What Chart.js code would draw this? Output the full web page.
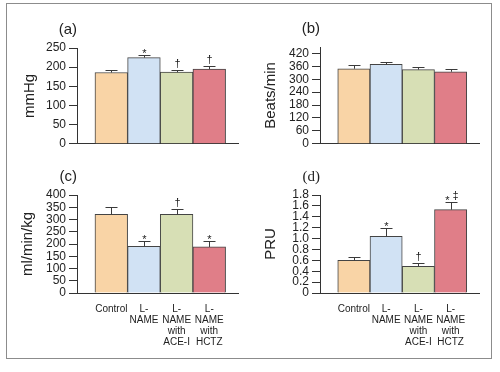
<!DOCTYPE html>
<html>
<head>
<meta charset="utf-8">
<script src="https://cdn.jsdelivr.net/npm/chart.js@4.4.0/dist/chart.umd.min.js"></script>
<style>
  body { margin: 0; background: #fff; width: 500px; height: 372px; position: relative; overflow: hidden; }
  #frame { position: absolute; left: 6px; top: 3px; width: 484px; height: 354px; border: 1px solid #8c8c8c; }
  canvas { position: absolute; }
</style>
</head>
<body>
<div id="frame"></div>
<canvas id="pa" width="244" height="150" style="left:6px;top:4px"></canvas>
<canvas id="pb" width="240" height="150" style="left:250px;top:4px"></canvas>
<canvas id="pc" width="244" height="196" style="left:6px;top:160px"></canvas>
<canvas id="pd" width="240" height="196" style="left:250px;top:160px"></canvas>
<script>
const groups = ['Control', 'L-NAME', 'L-NAME with ACE-I', 'L-NAME with HCTZ'];
const groupLabels = [['Control'], ['L-', 'NAME'], ['L-', 'NAME', 'with', 'ACE-I'], ['L-', 'NAME', 'with', 'HCTZ']];
const groupPos = [1, 2, 3, 4];
const colors = ['#f9d4a6', '#d1e2f4', '#d7dfb5', '#e07e88'];

// (a) blood pressure
const pressure = [186, 225, 187, 195];
const pressureErr = [7, 6, 6, 7];
const pressureMarks = ['', '*', '†', '†'];

// (b) heart rate
const heartRate = [349, 369, 345, 335];
const heartRateErr = [16, 11, 14, 14];
const heartRateMarks = ['', '', '', ''];

// (c) renal flow
const flow = [321, 191, 321, 188];
const flowErr = [29, 22, 22, 25];
const flowMarks = ['', '*', '†', '*'];

// (d) resistance
const pru = [0.60, 1.04, 0.49, 1.53];
const pruErr = [0.06, 0.16, 0.06, 0.14];
const pruMarks = ['', '*', '†', '*‡'];

const FONT = '"Liberation Sans", Arial, sans-serif';
const INK = '#333';

const errorBars = {
  id: 'errorBars',
  afterDatasetsDraw(chart, args, opts) {
    const {ctx} = chart;
    const y = chart.scales.y;
    const meta = chart.getDatasetMeta(0);
    ctx.save();
    ctx.strokeStyle = '#3a3a3a';
    ctx.fillStyle = '#222';
    ctx.lineWidth = 1;
    ctx.textAlign = 'center';
    ctx.textBaseline = 'alphabetic';
    meta.data.forEach((bar, i) => {
      const top = Math.round(y.getPixelForValue(opts.means[i] + opts.errs[i])) + 0.5;
      const x = Math.round(bar.x) + 0.5;
      ctx.beginPath();
      ctx.moveTo(x, bar.y);
      ctx.lineTo(x, top);
      ctx.moveTo(x - 6, top);
      ctx.lineTo(x + 6, top);
      ctx.stroke();
      const chars = [...opts.marks[i]];
      chars.forEach((c, k) => {
        const cx = x + (k - (chars.length - 1) / 2) * 8;
        ctx.font = '11px ' + FONT;
        ctx.fillText(c, cx, c === '*' ? top + 1 : top - 4);
      });
    });
    ctx.restore();
  }
};

const panelTag = {
  id: 'panelTag',
  afterDraw(chart, args, opts) {
    const {ctx, chartArea} = chart;
    ctx.save();
    ctx.fillStyle = '#222';
    ctx.font = opts.font;
    ctx.textAlign = 'right';
    ctx.textBaseline = 'middle';
    ctx.fillText(opts.text, chartArea.left, chartArea.top - 18);
    ctx.restore();
  }
};

const makePanel = (id, cfg) => {
  new Chart(document.getElementById(id), {
    type: 'bar',
    data: {
      datasets: [{
        data: cfg.means.map((v, i) => ({x: groupPos[i], y: v})),
        backgroundColor: colors,
        borderColor: '#444',
        borderWidth: 1,
        barPercentage: 1,
        categoryPercentage: 1
      }]
    },
    options: {
      responsive: false,
      animation: false,
      layout: {padding: {top: cfg.padTop, right: cfg.padRight, left: 0, bottom: 0}},
      plugins: {
        legend: {display: false},
        tooltip: {enabled: false},
        errorBars: {means: cfg.means, errs: cfg.errs, marks: cfg.marks},
        panelTag: {text: cfg.tag, font: cfg.tagFont || ('15px ' + FONT)}
      },
      scales: {
        x: {
          type: 'linear',
          min: -0.05,
          max: 4.88,
          offset: false,
          grid: {display: false, drawTicks: false, offset: false},
          border: {color: INK},
          ticks: {
            display: cfg.showLabels,
            stepSize: 1,
            includeBounds: false,
            autoSkip: false,
            maxRotation: 0,
            padding: 11,
            color: '#222',
            font: {family: FONT, size: 10, lineHeight: 1.1},
            callback: (v) => groupLabels[v - 1]
          },
          afterBuildTicks: (s) => { s.ticks = s.ticks.filter(t => t.value >= 1 && t.value <= 4); },
          afterFit: (s) => { s.height = cfg.xHeight; }
        },
        y: {
          min: 0,
          max: cfg.max,
          grid: {drawOnChartArea: false, tickLength: 8, color: INK},
          border: {color: INK},
          ticks: {
            stepSize: cfg.step,
            includeBounds: false,
            autoSkip: false,
            padding: 3,
            color: '#222',
            font: {family: FONT, size: 12},
            callback: cfg.fmt || ((v) => v)
          },
          title: {
            display: true,
            text: cfg.title,
            color: '#222',
            font: {family: FONT, size: 15},
            padding: {top: cfg.titlePad, bottom: 0}
          },
          afterBuildTicks: (s) => { s.ticks = s.ticks.filter(t => t.value <= cfg.lastTick + 1e-9); },
          afterFit: (s) => { s.width = cfg.yWidth; }
        }
      }
    },
    plugins: [errorBars, panelTag]
  });
}

makePanel('pa', {
  means: pressure, errs: pressureErr, marks: pressureMarks, tag: '(a)', title: 'mmHg',
  max: 250, step: 50, lastTick: 250, padTop: 44, padRight: 12, yWidth: 71, xHeight: 9, titlePad: 15, showLabels: false
});
makePanel('pb', {
  means: heartRate, errs: heartRateErr, marks: heartRateMarks, tag: '(b)', title: 'Beats/min',
  max: 450, step: 60, lastTick: 420, padTop: 43, padRight: 11, yWidth: 70, xHeight: 9, titlePad: 12, showLabels: false
});
makePanel('pc', {
  means: flow, errs: flowErr, marks: flowMarks, tag: '(c)', title: 'ml/min/kg',
  max: 400, step: 50, lastTick: 400, padTop: 35, padRight: 12, yWidth: 71, xHeight: 63, titlePad: 13, showLabels: true
});
makePanel('pd', {
  means: pru, errs: pruErr, marks: pruMarks, tag: '(d)', title: 'PRU', tagFont: '15px "Liberation Serif", serif',
  max: 1.8, step: 0.2, lastTick: 1.8, padTop: 35, padRight: 11, yWidth: 70, xHeight: 63, titlePad: 12, showLabels: true,
  fmt: (v) => v === 0 ? '0' : v.toFixed(1)
});
</script>
</body>
</html>
